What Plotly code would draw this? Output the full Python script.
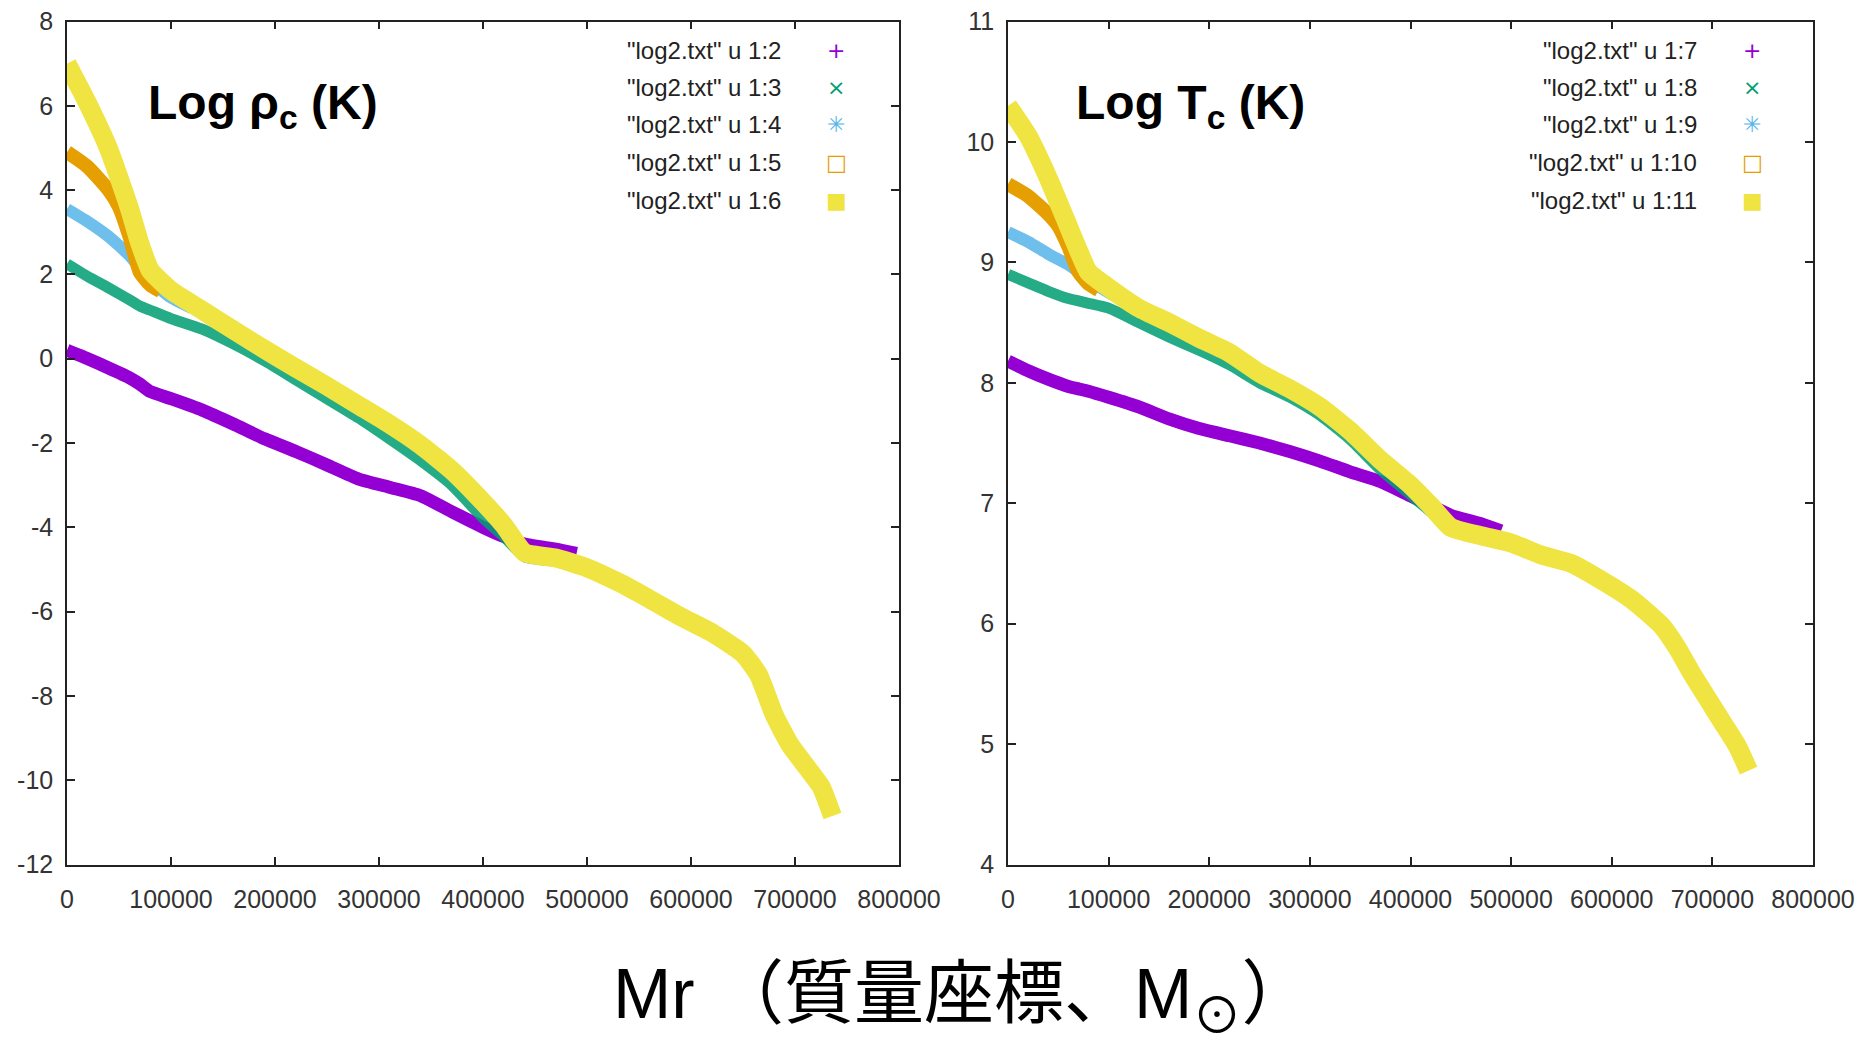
import plotly.graph_objects as go

# ---------------- data ----------------
x_main = [0, 20000, 40000, 60000, 70000, 80000, 100000, 130000, 160000, 190000,
          220000, 250000, 280000, 310000, 340000, 370000, 400000, 420000, 440000,
          470000, 500000, 530000, 560000, 590000, 620000, 650000, 665000, 680000,
          695000, 710000, 725000, 736000]
x_purple = [0, 20000, 40000, 60000, 70000, 80000, 100000, 130000, 160000, 190000,
            220000, 250000, 280000, 310000, 340000, 370000, 400000, 420000, 440000,
            470000, 490000]
x_green = [0, 20000, 40000, 60000, 70000, 80000, 100000, 130000, 160000, 190000,
           220000, 250000, 280000, 310000, 340000, 370000, 400000, 420000, 440000,
           470000]
x_blue = [0, 20000, 40000, 60000, 70000, 80000, 100000, 120000]
x_orange = [0, 20000, 40000, 50000, 60000, 70000, 80000, 90000]

# left panel: Log rho_c
rho_col2 = [0.2, 0.0, -0.22, -0.45, -0.6, -0.78, -0.95, -1.22, -1.55, -1.9, -2.2,
            -2.52, -2.85, -3.05, -3.25, -3.63, -4.0, -4.22, -4.4, -4.52, -4.62]
rho_col3 = [2.25, 1.95, 1.68, 1.4, 1.25, 1.15, 0.95, 0.7, 0.35, -0.05, -0.5, -0.95,
            -1.4, -1.9, -2.42, -3.0, -3.78, -4.22, -4.7, -4.8]
rho_col4 = [3.55, 3.25, 2.9, 2.45, 2.15, 1.85, 1.45, 1.2]
rho_col5 = [4.9, 4.55, 4.0, 3.6, 2.9, 2.05, 1.75, 1.6]
rho_col6 = [7.0, 6.05, 4.98, 3.57, 2.74, 2.1, 1.62, 1.15, 0.68, 0.22, -0.22, -0.65,
            -1.1, -1.55, -2.05, -2.65, -3.4, -3.95, -4.6, -4.73, -4.96, -5.3, -5.7,
            -6.12, -6.5, -7.0, -7.5, -8.45, -9.15, -9.65, -10.15, -10.85]

# right panel: Log T_c
t_col7 = [8.18, 8.1, 8.03, 7.97, 7.95, 7.93, 7.88, 7.8, 7.7, 7.62, 7.56, 7.5, 7.43,
          7.35, 7.26, 7.18, 7.06, 6.98, 6.9, 6.83, 6.77]
t_col8 = [8.9, 8.83, 8.76, 8.7, 8.68, 8.66, 8.62, 8.5, 8.38, 8.27, 8.15, 8.0, 7.88,
          7.73, 7.53, 7.28, 7.07, 6.93, 6.78, 6.72]
t_col9 = [9.25, 9.17, 9.07, 8.98, 8.92, 8.85, 8.75, 8.66]
t_col10 = [9.65, 9.55, 9.4, 9.3, 9.13, 8.92, 8.82, 8.77]
t_col11 = [10.3, 10.05, 9.7, 9.3, 9.1, 8.92, 8.79, 8.62, 8.5, 8.37, 8.25, 8.08, 7.95,
           7.8, 7.6, 7.36, 7.15, 6.98, 6.8, 6.73, 6.67, 6.57, 6.5, 6.36, 6.2, 5.98,
           5.8, 5.58, 5.38, 5.18, 4.98, 4.78]

legend_left = ['"log2.txt" u 1:2', '"log2.txt" u 1:3', '"log2.txt" u 1:4',
               '"log2.txt" u 1:5', '"log2.txt" u 1:6']
legend_right = ['"log2.txt" u 1:7', '"log2.txt" u 1:8', '"log2.txt" u 1:9',
                '"log2.txt" u 1:10', '"log2.txt" u 1:11']
legend_symbols = ['+', '×', '✳', '□', '■']

x_ticks = [0, 100000, 200000, 300000, 400000, 500000, 600000, 700000, 800000]
y_ticks_left = [-12, -10, -8, -6, -4, -2, 0, 2, 4, 6, 8]
y_labels_left = ['-12', '-10', '-8', '-6', '-4', '-2', '0', '2', '4', '6', '8']
y_ticks_right = [4, 5, 6, 7, 8, 9, 10, 11]

colors = ['#9400D3', '#009E73', '#56B4E9', '#E69F00', '#F0E442']
widths = [13, 11, 12, 14, 19]
opac = [1.0, 0.85, 0.85, 1.0, 1.0]

W, H = 1872, 1045
fig = go.Figure()

left_sets = [(x_purple, rho_col2), (x_green, rho_col3), (x_blue, rho_col4),
             (x_orange, rho_col5), (x_main, rho_col6)]
right_sets = [(x_purple, t_col7), (x_green, t_col8), (x_blue, t_col9),
              (x_orange, t_col10), (x_main, t_col11)]

for i, (xs, ys) in enumerate(left_sets):
    fig.add_trace(go.Scatter(x=xs, y=ys, mode='lines', xaxis='x', yaxis='y',
                             line=dict(color=colors[i], width=widths[i],
                                       shape='spline', smoothing=0.5),
                             opacity=opac[i], showlegend=False, name=legend_left[i]))
for i, (xs, ys) in enumerate(right_sets):
    fig.add_trace(go.Scatter(x=xs, y=ys, mode='lines', xaxis='x2', yaxis='y2',
                             line=dict(color=colors[i], width=widths[i],
                                       shape='spline', smoothing=0.5),
                             opacity=opac[i], showlegend=False, name=legend_right[i]))

tickfont = dict(family='Liberation Sans, Arial, sans-serif', size=25, color='#333333')
axis_common = dict(showline=True, linecolor='#222222', linewidth=1.5, mirror='allticks',
                   ticks='inside', ticklen=8, tickwidth=1.5, tickcolor='#222222',
                   showgrid=False, zeroline=False, tickfont=tickfont, automargin=False)

ydom = [1 - 864.5 / H, 1 - 21.5 / H]
fig.update_layout(
    width=W, height=H,
    margin=dict(l=0, r=0, t=0, b=0, autoexpand=False),
    paper_bgcolor='white', plot_bgcolor='white',
    xaxis=dict(domain=[67 / W, 899 / W], range=[0, 800000], tickvals=x_ticks,
               tickformat='d', anchor='y', ticklabelstandoff=12, **axis_common),
    yaxis=dict(domain=ydom, range=[-12, 8], tickvals=y_ticks_left,
               ticktext=y_labels_left, anchor='x', ticklabelstandoff=7, **axis_common),
    xaxis2=dict(domain=[1008 / W, 1813 / W], range=[0, 800000], tickvals=x_ticks,
                tickformat='d', anchor='y2', ticklabelstandoff=12, **axis_common),
    yaxis2=dict(domain=ydom, range=[4, 11], tickvals=y_ticks_right, anchor='x2',
                ticklabelstandoff=7, **axis_common),
)

ann = []
title_font = dict(family='Liberation Sans, Arial, sans-serif', size=48, color='black')
ann.append(dict(text='<b>Log ρ<sub>c</sub> (K)</b>', x=146 / W, y=1 - 106 / H,
                xref='paper', yref='paper', xanchor='left', yanchor='middle',
                showarrow=False, font=title_font))
ann.append(dict(text='<b>Log T<sub>c</sub> (K)</b>', x=1074 / W, y=1 - 106 / H,
                xref='paper', yref='paper', xanchor='left', yanchor='middle',
                showarrow=False, font=title_font))

row_y = [50, 87, 125, 163, 201]
leg_font = dict(family='Liberation Sans, Arial, sans-serif', size=24, color='#222222')
for labels, text_right, sym_x in [(legend_left, 783, 836), (legend_right, 1699, 1752)]:
    for i, lab in enumerate(labels):
        ann.append(dict(text=lab, x=text_right / W, y=1 - row_y[i] / H,
                        xref='paper', yref='paper', xanchor='right', yanchor='middle',
                        showarrow=False, font=leg_font))
        ann.append(dict(text=legend_symbols[i], x=sym_x / W, y=1 - row_y[i] / H,
                        xref='paper', yref='paper', xanchor='center', yanchor='middle',
                        showarrow=False,
                        font=dict(family='DejaVu Sans, sans-serif', size=22,
                                  color=colors[i])))

ann.append(dict(text='Mr （質量座標、M<sub>⊙</sub>）', x=962 / W, y=1 - 999 / H,
                xref='paper', yref='paper', xanchor='center', yanchor='middle',
                showarrow=False,
                font=dict(family='Liberation Sans, Arial, Noto Sans CJK JP, sans-serif',
                          size=70, color='black')))
fig.update_layout(annotations=ann)

fig.write_html('out.html')
